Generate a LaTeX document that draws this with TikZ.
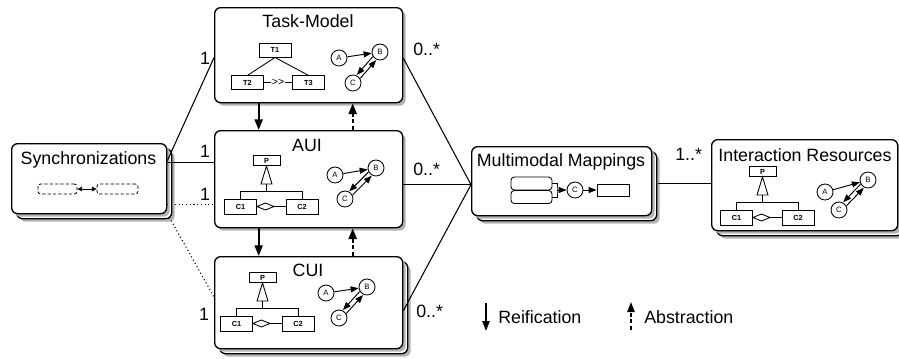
\documentclass[tikz,border=0pt]{standalone}
\usepackage{fontspec}
\setmainfont{Liberation Sans}
\usetikzlibrary{shadows,arrows.meta,calc}
\tikzset{
  bx/.style={draw, fill=white, rounded corners=4.5pt, line width=1pt, anchor=north west, inner sep=0pt,
    general shadow={shadow xshift=2.25pt, shadow yshift=-2.25pt, fill=black!30}},
  sbx/.style={draw, fill=white, rounded corners=4.5pt, line width=1pt, anchor=north west, inner sep=0pt,
    general shadow={shadow xshift=6pt, shadow yshift=-6pt, fill=black!30},
    general shadow={shadow xshift=3.75pt, shadow yshift=-3.75pt, fill=white, draw=black, line width=1pt},
    general shadow={shadow xshift=2.25pt, shadow yshift=-2.25pt, fill=black!30}},
  ttl/.style={font=\fontsize{13.35}{15}\selectfont, anchor=base, inner sep=0pt},
  lbl/.style={font=\fontsize{13.35}{15}\selectfont, inner sep=0pt},
  sm/.style={draw, fill=white, inner sep=0pt, line width=0.65pt, font=\bfseries\fontsize{5.5}{6}\selectfont},
  cbox/.style={sm, minimum width=24pt, minimum height=11.25pt},
  circ/.style={circle, draw, fill=white, minimum size=12pt, inner sep=0pt, line width=0.65pt, font=\fontsize{5.8}{6}\selectfont},
  sarr/.style={line width=0.7pt, -{Triangle[length=6pt,width=4.5pt]}},
  thn/.style={line width=0.65pt},
  ln/.style={line width=0.8pt},
  dotl/.style={line width=0.8pt, dotted},
  reif/.style={line width=1.6pt, -{Triangle[length=8pt,width=6pt]}},
  abst/.style={reif, dash pattern=on 3pt off 2pt},
  reifl/.style={line width=1.2pt, -{Triangle[length=7.5pt,width=5.5pt]}},
  abstl/.style={reifl, dash pattern=on 3pt off 2pt},
  rr/.style={draw, fill=white, rounded corners=2.5pt, inner sep=0pt, line width=0.65pt},
  drr/.style={draw, rounded corners=2pt, inner sep=0pt, line width=0.6pt, dash pattern=on 2.5pt off 1.5pt, minimum height=7.5pt}
}
\newcommand{\clsdg}[3]{%
  \begin{scope}[shift={(#2,#3)}, name prefix=#1]
    \node[sm, minimum width=20.25pt, minimum height=7.5pt] (P) at (0,0) {P};
    \node[cbox] (C1) at (-26,46) {C1};
    \node[cbox] (C2) at (35.5,46) {C2};
    \draw[thn, fill=white] (P.south) -- (-5.5,23.5) -- (5.5,23.5) -- cycle;
    \draw[thn] (0,23.5) -- (0,31);
    \draw[thn] (C1.north) -- ++(0,-7.5) -| (C2.north);
    \draw[thn, fill=white] (C1.east) -- ++(8.5,-3.5) -- ++(8.5,3.5) -- ++(-8.5,3.5) -- cycle;
    \draw[thn] ([xshift=12.75pt]C1.east) -- (C2.west);
  \end{scope}}
\newcommand{\abcdg}[7]{%
  \begin{scope}[name prefix=#1]
    \node[circ] (A) at (#2,#3) {A};
    \node[circ] (B) at (#4,#5) {B};
    \node[circ] (C) at (#6,#7) {C};
    \draw[sarr] (A) -- (B);
    \draw[sarr, transform canvas={shift={(-1.7,-1.7)}}] (B) -- (C);
    \draw[sarr, transform canvas={shift={(1.7,1.7)}}] (C) -- (B);
  \end{scope}}
\begin{document}
\begin{tikzpicture}[x=0.75pt,y=-0.75pt]
\useasboundingbox (0,0) rectangle (899,358);

% boxes
\node[sbx, minimum width=116.25pt, minimum height=52.5pt] (sync) at (11,143) {};
\node[bx, minimum width=141pt, minimum height=71.25pt] (tm) at (214,7) {};
\node[bx, minimum width=141pt, minimum height=72.75pt] (aui) at (214,130) {};
\node[sbx, minimum width=141pt, minimum height=69pt] (cui) at (214,256) {};
\node[sbx, minimum width=135pt, minimum height=51.75pt] (mm) at (471,146) {};
\node[sbx, minimum width=139.5pt, minimum height=68.25pt] (ir) at (711,139) {};

% titles
\node[ttl] (syncT) at (88.5,164) {Synchronizations};
\node[ttl] (tmT) at (308,27) {Task-Model};
\node[ttl] (auiT) at (307,151) {AUI};
\node[ttl] (cuiT) at (308,276) {CUI};
\node[ttl] (mmT) at (561,166) {Multimodal Mappings};
\node[ttl] (irT) at (805,161) {Interaction Resources};

% sync inner
\node[drr, minimum width=29.25pt] (s1) at (57.5,189) {};
\node[drr, minimum width=30.75pt] (s2) at (117.5,189) {};
\draw[line width=0.6pt, {Triangle[length=3.5pt,width=3.5pt]}-{Triangle[length=3.5pt,width=3.5pt]}] (s1) -- (s2);

% task model inner
\node[cbox, minimum height=10.5pt] (T1) at (275,50) {T1};
\node[cbox, minimum height=10pt] (T2) at (247.5,82.5) {T2};
\node[cbox, minimum height=10pt] (T3) at (308.5,82.5) {T3};
\draw[thn] (T1.south) -- (T2.north);
\draw[thn] (T1.south) -- (T3.north);
\draw[thn] (T2) -- node[fill=white, inner sep=0.4pt, font=\fontsize{8}{8}\selectfont] (tsep) {>\kern0pt>} (T3);
\abcdg{tm-}{339}{58}{380}{52}{353}{83}

% AUI inner
\clsdg{aui-}{266.5}{160.5}
\abcdg{aui-}{335}{175}{376}{168}{345}{199}

% CUI inner
\clsdg{cui-}{262.5}{277.5}
\abcdg{cui-}{326}{293}{367}{287}{339}{318}

% IR inner
\clsdg{ir-}{762.5}{171.5}
\abcdg{ir-}{825}{192}{868}{180}{839}{210}

% MM inner
\node[rr, minimum width=30.75pt, minimum height=9.75pt] (m1) at (531.5,183.5) {};
\node[rr, minimum width=30.75pt, minimum height=9.75pt] (m2) at (531.5,197) {};
\coordinate (br) at (557,190);
\draw[thn] (m1.east) -| (br) |- (m2.east);
\node[circ] (mc) at (575,190) {C};
\node[sm, minimum width=24pt, minimum height=9pt] (mr) at (613,190) {};
\draw[sarr] (br) -- (mc);
\draw[sarr] (mc) -- (mr);

% connectors
\draw[ln] ([shift={(0,-18)}]sync.east) -- ([shift={(0,2.5)}]tm.west);
\draw[ln] ([shift={(0,-16)}]sync.east) -- ([shift={(0,-16.5)}]aui.west);
\draw[dotl] ([shift={(0,26)}]sync.east) -- ([shift={(0,25.5)}]aui.west);
\draw[dotl] ([shift={(2,3)}]sync.south east) -- ([shift={(0,41)}]cui.north west);

\coordinate (mmin) at ([shift={(0,3.5)}]mm.west);
\draw[ln] ([shift={(0,3)}]tm.east) -- (mmin);
\draw[ln] (aui.east |- mmin) -- (mmin);
\draw[ln] ([shift={(0,8)}]cui.east) -- (mmin);
\coordinate (mmout) at ([shift={(6,2.5)}]mm.east);
\draw[ln] (mmout) -- (mmout -| ir.west);

% multiplicities
\node[lbl, anchor=base] (l1) at (205,64) {1};
\node[lbl, anchor=base] (l2) at (205,157) {1};
\node[lbl, anchor=base] (l3) at (205,200) {1};
\node[lbl, anchor=base] (l4) at (204,320) {1};
\node[lbl, anchor=base west] (m1l) at (413,55) {0..*};
\node[lbl, anchor=base west] (m2l) at (413,175) {0..*};
\node[lbl, anchor=base west] (m3l) at (416,317) {0..*};
\node[lbl, anchor=base west] (m4l) at (675,160) {1..*};

% reification / abstraction
\draw[reif] ([xshift=-37.5pt]tm.south) -- ([xshift=-37.5pt]aui.north);
\draw[abst] ([xshift=33pt]aui.north) -- ([xshift=33pt]tm.south);
\draw[reif] ([xshift=-37.5pt]aui.south) -- ([xshift=-37.5pt]cui.north);
\draw[abst] ([xshift=33pt]cui.north) -- ([xshift=33pt]aui.south);

% legend
\coordinate (ra) at (486,303);
\coordinate (rb) at (486,331);
\draw[reifl] (ra) -- (rb);
\node[lbl, anchor=base west] (reifT) at (498,323) {Reification};
\coordinate (aa) at (631,330);
\coordinate (ab) at (631,302);
\draw[abstl] (aa) -- (ab);
\node[lbl, anchor=base west] (abstT) at (644,323) {Abstraction};
\end{tikzpicture}
\end{document}
